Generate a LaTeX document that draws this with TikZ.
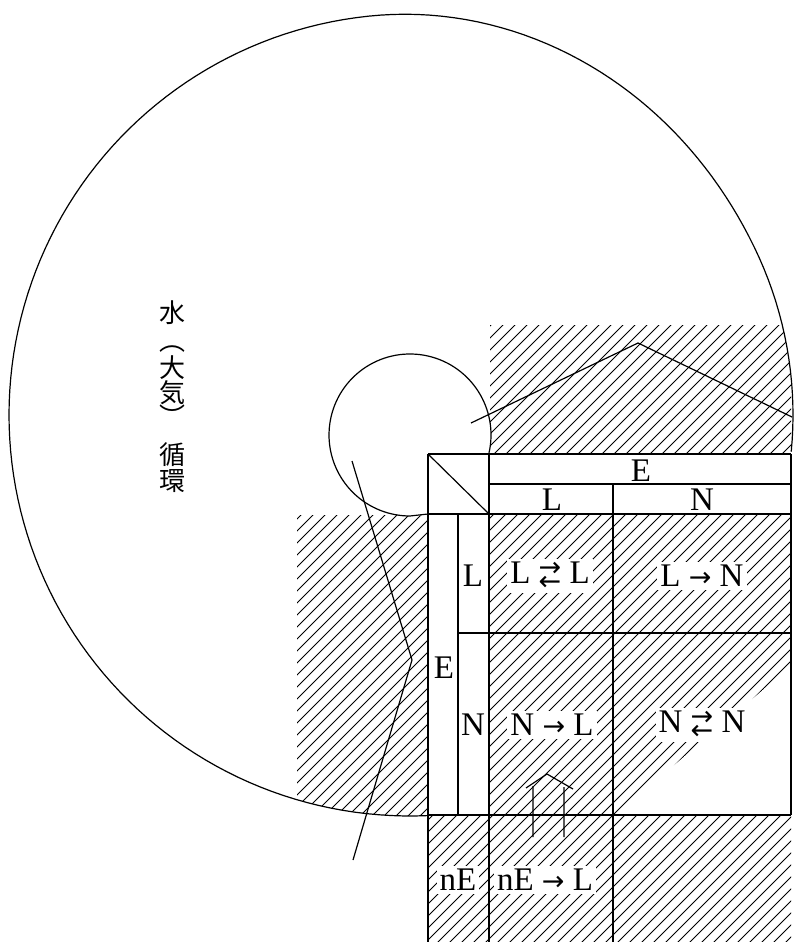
\documentclass[tikz,border=0pt]{standalone}
\usepackage{fontspec}
\setmainfont{Liberation Serif}
\newfontfamily\cjkfont{Noto Sans CJK JP}
\newfontfamily\arrfont{DejaVu Sans}
\newcommand\arr[1]{{\arrfont\fontsize{27}{27}\selectfont #1}}
\newcommand\arrlr{\makebox[0pt][l]{\raisebox{7pt}{\arr{→}}}\raisebox{-7pt}{\arr{←}}}
\newcommand\hatchall{\foreach \c in {804,816,...,1740}{\draw[hatchln] ({\c-960},960) -- ({\c-300},300);}}
\begin{document}
\begin{tikzpicture}[x=1pt,y=-1pt,
  declare function={su(\t)=min(max((\t-265)/70,0),1); sr(\t)=401-18*su(\t)*su(\t)*(3-2*su(\t));},
  line/.style={line width=1.2pt, line join=round},
  hatchln/.style={line width=0.9pt},
  lbl/.style={font=\fontsize{33}{33}\selectfont, inner sep=0pt},
  knock/.style={lbl, fill=white, inner sep=3pt},
  cjk/.style={font=\cjkfont\fontsize{26}{26}\selectfont, inner sep=0pt}]
\useasboundingbox (0,0) rectangle (793,942);

% ---------- hatched regions ----------
\begin{scope}
  \clip plot[domain=87.4:365.5, samples=160, variable=\t] ({410+sr(\t)*cos(\t)},{415+sr(\t)*sin(\t)}) -- (800,460) -- (800,820) -- cycle;
  \clip (490,325) rectangle (791,454);
  \hatchall
\end{scope}
\begin{scope}
  \clip plot[domain=87.4:365.5, samples=160, variable=\t] ({410+sr(\t)*cos(\t)},{415+sr(\t)*sin(\t)}) -- (800,460) -- (800,820) -- cycle;
  \clip (297,515) rectangle (428,815);
  \hatchall
\end{scope}
\begin{scope}
  \clip (489,514) -- (791,514) -- (791,666) -- (615,815) -- (489,815) -- cycle;
  \hatchall
\end{scope}
\begin{scope}
  \clip (428,815) rectangle (791,942);
  \hatchall
\end{scope}
\fill[white] (410,435) circle (81);

% ---------- big spiral and small circle ----------
\draw[line] plot[domain=87.4:365.5, samples=160, variable=\t] ({410+sr(\t)*cos(\t)},{415+sr(\t)*sin(\t)});
\draw[line] (410,435) ++(12.7:81) arc[start angle=12.7, end angle=-270, radius=81] -- (428,514);

% ---------- table grid ----------
\draw[line] (428,454) -- (791,454);
\draw[line] (489,484) -- (791,484);
\draw[line] (428,514) -- (791,514);
\draw[line] (458,633) -- (791,633);
\draw[line] (428,815) -- (791,815);
\draw[line] (428,454) -- (428,942);
\draw[line] (458,514) -- (458,815);
\draw[line] (489,454) -- (489,942);
\draw[line] (613,484) -- (613,942);
\draw[line] (791,454) -- (791,815);
\draw[line] (428,454) -- (489,514);

% ---------- polylines ----------
\coordinate (p1) at (471,423);
\coordinate (p2) at (638,343);
\coordinate (p3) at (792,417);
\draw[line] (p1) -- (p2) -- (p3);
\coordinate (q1) at (352,461);
\coordinate (q2) at (412,660);
\coordinate (q3) at (353,860);
\draw[line] (q1) -- (q2) -- (q3);

% ---------- outlined up arrow ----------
\coordinate (a1) at (533,837);
\coordinate (a2) at (533,786);
\coordinate (a3) at (564,837);
\coordinate (a4) at (564,787);
\coordinate (r1) at (526,788);
\coordinate (r2) at (547,774);
\coordinate (r3) at (573,789);
\draw[line] (a1) -- (a2) (a3) -- (a4) (r1) -- (r2) -- (r3);

% ---------- labels ----------
\node[lbl] (hE) at (641,471) {E};
\node[lbl] (hL) at (552,500) {L};
\node[lbl] (hN) at (702,500) {N};
\node[lbl] (rL) at (473,576) {L};
\node[lbl] (rN) at (473,725) {N};
\node[lbl] (rE) at (444,668) {E};
\node[knock] (rnE) at (458,880) {nE};
\node[knock] (cLL) at (550,576) {L \arrlr\ L};
\node[knock] (cLN) at (702,576) {L \arr{→} N};
\node[knock] (cNL) at (552,725) {N \arr{→} L};
\node[knock] (cNN) at (702,725) {N \arrlr\ N};
\node[knock] (cnEL) at (545,880) {nE \arr{→} L};

\node[cjk] (k1) at (172,313) {水};
\node[cjk] (k2) at (172,349) {︵};
\node[cjk] (k3) at (172,368) {大};
\node[cjk] (k4) at (172,393) {気};
\node[cjk] (k5) at (172,416) {︶};
\node[cjk] (k6) at (172,455) {循};
\node[cjk] (k7) at (172,481) {環};
\end{tikzpicture}
\end{document}
